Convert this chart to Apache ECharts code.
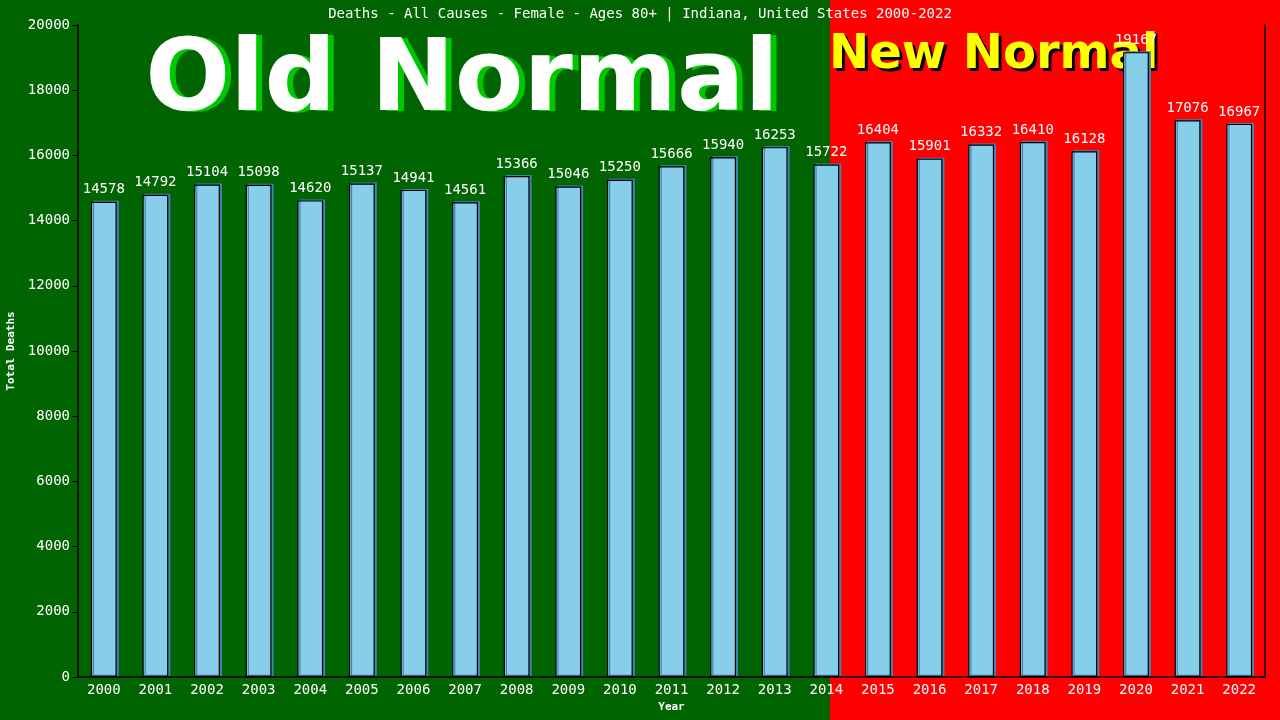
<!DOCTYPE html>
<html>
<head>
<meta charset="utf-8">
<script src="https://cdn.jsdelivr.net/npm/echarts@6/dist/echarts.min.js"></script>
<style>html,body{margin:0;padding:0;background:#006400;}#c{width:1280px;height:720px;}</style>
</head>
<body>
<div id="c"></div>
<script>
var years = ['2000','2001','2002','2003','2004','2005','2006','2007','2008','2009','2010','2011','2012','2013','2014','2015','2016','2017','2018','2019','2020','2021','2022'];
var deaths = [14578,14792,15104,15098,14620,15137,14941,14561,15366,15046,15250,15666,15940,16253,15722,16404,15901,16332,16410,16128,19167,17076,16967];
var yTicks = [0,2000,4000,6000,8000,10000,12000,14000,16000,18000,20000];
var titleText = 'Deaths - All Causes - Female - Ages 80+ | Indiana, United States 2000-2022';
var mono = 'DejaVu Sans Mono';

var chart = echarts.init(document.getElementById('c'));
chart.setOption({
  backgroundColor: '#006400',
  animation: false,
  graphic: [
    { type: 'rect', z: -10, silent: true, shape: { x: 830, y: 0, width: 450, height: 720 }, style: { fill: '#ff0000' } },
    { type: 'text', z: 0, silent: true, x: 468, y: 85, style: { text: 'Old Normal', font: 'bold 100px "DejaVu Sans"', fill: '#00c800', align: 'center', verticalAlign: 'middle' } },
    { type: 'text', z: 0, silent: true, x: 462, y: 84, style: { text: 'Old Normal', font: 'bold 100px "DejaVu Sans"', fill: '#ffffff', align: 'center', verticalAlign: 'middle' } },
    { type: 'text', z: 0, silent: true, x: 832, y: 59, style: { text: 'New Normal', font: 'bold 48px "DejaVu Sans"', fill: '#000000', align: 'left', verticalAlign: 'middle' } },
    { type: 'text', z: 0, silent: true, x: 829, y: 56, style: { text: 'New Normal', font: 'bold 48px "DejaVu Sans"', fill: '#ffff00', align: 'left', verticalAlign: 'middle' } }
  ],
  title: {
    text: titleText, left: 'center', top: 2,
    textStyle: { color: '#ffffff', fontFamily: mono, fontSize: 14, fontWeight: 'normal' }
  },
  grid: { left: 78, right: 15, top: 25, bottom: 43, containLabel: false, outerBoundsMode: 'none' },
  xAxis: {
    type: 'category', data: years,
    name: 'Year', nameLocation: 'middle', nameGap: 23,
    nameTextStyle: { color: '#ffffff', fontFamily: mono, fontSize: 11, fontWeight: 'bold' },
    axisLine: { show: true, lineStyle: { color: '#000000', width: 1.5 } },
    axisTick: { show: false },
    axisLabel: { color: '#ffffff', fontFamily: mono, fontSize: 14, margin: 6 },
    splitLine: { show: false }
  },
  yAxis: [{
    type: 'value', min: 0, max: 20000, interval: 2000,
    name: 'Total Deaths', nameLocation: 'middle', nameGap: 59,
    nameTextStyle: { color: '#ffffff', fontFamily: mono, fontSize: 11, fontWeight: 'bold' },
    axisLine: { show: true, lineStyle: { color: '#000000', width: 1.5 } },
    axisTick: { show: true, length: 6, lineStyle: { color: '#000000' } },
    axisLabel: { color: '#ffffff', fontFamily: mono, fontSize: 14, margin: 8,
      formatter: function (v) { return yTicks.indexOf(v) >= 0 ? String(v) : ''; } },
    splitLine: { show: false }
  }, {
    type: 'value', min: 0, max: 20000, interval: 2000, position: 'right',
    axisLine: { show: true, lineStyle: { color: '#000000', width: 1.5 } },
    axisTick: { show: false }, axisLabel: { show: false }, splitLine: { show: false }
  }],
  series: [{
    type: 'bar', data: deaths, barWidth: '50%', yAxisIndex: 0,
    itemStyle: { color: '#87ceeb', borderColor: '#000000', borderWidth: 1.2,
      shadowColor: '#4682b4', shadowOffsetX: 2, shadowOffsetY: -1, shadowBlur: 0 },
    label: { show: true, position: 'top', distance: 5, color: '#ffffff', fontFamily: mono, fontSize: 14 }
  }]
});
</script>
</body>
</html>
